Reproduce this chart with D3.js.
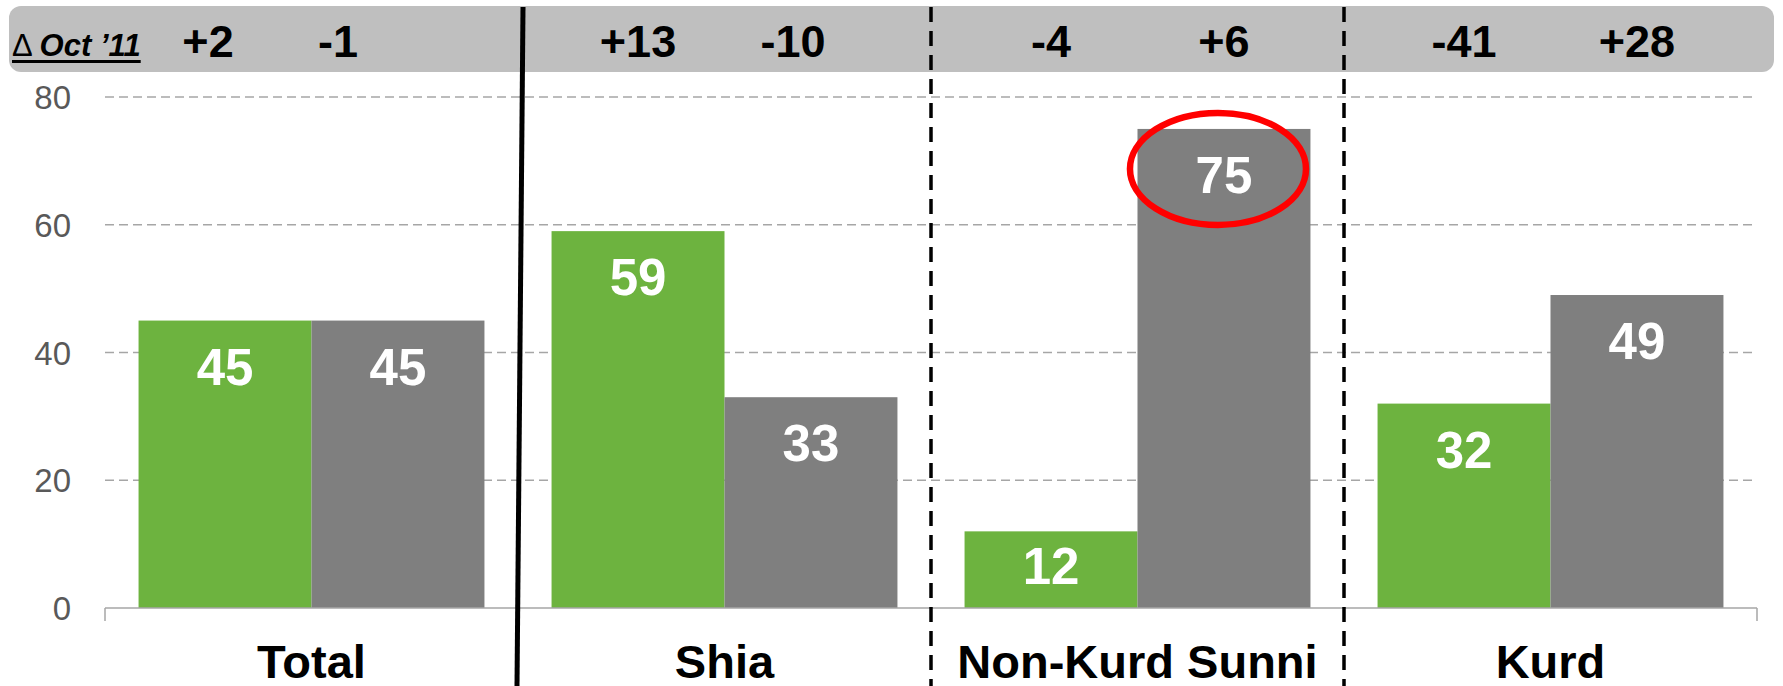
<!DOCTYPE html>
<html>
<head>
<meta charset="utf-8">
<script src="https://cdn.jsdelivr.net/npm/d3@7/dist/d3.min.js"></script>
<style>
  body { margin: 0; background: #fff; }
  text { font-family: Arial, "Liberation Sans", sans-serif; }
</style>
</head>
<body>
<svg id="chart" width="1783" height="686"></svg>
<script>
// data
const groups = ['Total', 'Shia', 'Non-Kurd Sunni', 'Kurd'];
const greenValues = [45, 59, 12, 32];
const grayValues = [45, 33, 75, 49];
const greenDelta = ['+2', '+13', '-4', '-41'];
const grayDelta = ['-1', '-10', '+6', '+28'];
const yTicks = [0, 20, 40, 60, 80];
const deltaLabel = 'Oct \u201911';

// header labels in the Total group sit a bit left of their bars
const headerShift = [[-17, -60], [0, -18], [0, 0], [0, 0]];

const green = '#6db33f',
      gray = '#7f7f7f';

let svg = d3.select('#chart');

let x = d3.scaleBand()
  .domain(groups)
  .range([105, 1757]);

let xs = d3.scaleBand()
  .domain([0, 1])
  .range([0, x.bandwidth()])
  .paddingOuter(0.194);

let y = d3.scaleLinear()
  .domain([0, 80])
  .range([608, 97]);

let bars = [];
groups.forEach((g, i) => {
  bars.push({group: g, gi: i, s: 0, value: greenValues[i], color: green});
  bars.push({group: g, gi: i, s: 1, value: grayValues[i], color: gray});
});

// header band
svg.append('rect')
  .attr('x', 9)
  .attr('y', 6)
  .attr('width', 1765)
  .attr('height', 66)
  .attr('rx', 12)
  .attr('fill', '#bfbfbf');

// gridlines
svg.append('g')
  .selectAll('line')
  .data(yTicks.filter(d => d > 0))
  .enter().append('line')
    .attr('x1', x.range()[0])
    .attr('x2', x.range()[1])
    .attr('y1', d => y(d))
    .attr('y2', d => y(d))
    .attr('stroke', '#a6a6a6')
    .attr('stroke-width', 1.5)
    .attr('stroke-dasharray', '9,5');

// y tick labels
svg.append('g')
  .selectAll('text')
  .data(yTicks)
  .enter().append('text')
    .attr('x', 71)
    .attr('y', d => y(d) + 12)
    .attr('text-anchor', 'end')
    .attr('font-size', 33)
    .attr('fill', '#595959')
    .text(d => d);

// bars
svg.append('g')
  .selectAll('rect')
  .data(bars)
  .enter().append('rect')
    .attr('x', d => x(d.group) + xs(d.s))
    .attr('y', d => y(d.value))
    .attr('width', xs.bandwidth())
    .attr('height', d => y(0) - y(d.value))
    .attr('fill', d => d.color);

// bar labels
svg.append('g')
  .selectAll('text')
  .data(bars)
  .enter().append('text')
    .attr('x', d => x(d.group) + xs(d.s) + xs.bandwidth() / 2)
    .attr('y', d => {
      let top = y(d.value);
      return Math.min(top + 64, (top + y(0)) / 2 + 14);
    })
    .attr('text-anchor', 'middle')
    .attr('font-size', 51)
    .attr('font-weight', 'bold')
    .attr('fill', '#fff')
    .text(d => d.value);

// baseline
svg.append('line')
  .attr('x1', x.range()[0])
  .attr('x2', x.range()[1])
  .attr('y1', y(0))
  .attr('y2', y(0))
  .attr('stroke', '#a6a6a6')
  .attr('stroke-width', 1.5);

svg.append('g')
  .selectAll('line')
  .data(groups.concat(['end']))
  .enter().append('line')
    .attr('x1', (d, i) => x.range()[0] + i * x.step())
    .attr('x2', (d, i) => x.range()[0] + i * x.step())
    .attr('y1', y(0))
    .attr('y2', y(0) + 13)
    .attr('stroke', '#a6a6a6')
    .attr('stroke-width', 1.5);

// category labels
svg.append('g')
  .selectAll('text')
  .data(groups)
  .enter().append('text')
    .attr('x', d => x(d) + x.bandwidth() / 2)
    .attr('y', 678)
    .attr('text-anchor', 'middle')
    .attr('font-size', 47)
    .attr('font-weight', 'bold')
    .attr('fill', '#000')
    .text(d => d);

// change since Oct '11
let deltas = [];
groups.forEach((g, i) => {
  deltas.push({group: g, s: 0, text: greenDelta[i], dx: headerShift[i][0]});
  deltas.push({group: g, s: 1, text: grayDelta[i], dx: headerShift[i][1]});
});

svg.append('g')
  .selectAll('text')
  .data(deltas)
  .enter().append('text')
    .attr('x', d => x(d.group) + xs(d.s) + xs.bandwidth() / 2 + d.dx)
    .attr('y', 57)
    .attr('text-anchor', 'middle')
    .attr('font-size', 45)
    .attr('font-weight', 'bold')
    .attr('fill', '#000')
    .text(d => d.text);

let dl = svg.append('text')
  .attr('x', 12)
  .attr('y', 56)
  .attr('font-size', 31)
  .attr('fill', '#000');
dl.append('tspan')
  .text('\u0394 ');
dl.append('tspan')
  .attr('font-weight', 'bold')
  .attr('font-style', 'italic')
  .text(deltaLabel);

let dlw = dl.node().getComputedTextLength();
svg.append('line')
  .attr('x1', 12)
  .attr('x2', 12 + dlw)
  .attr('y1', 61.5)
  .attr('y2', 61.5)
  .attr('stroke', '#000')
  .attr('stroke-width', 3);

// group separators
let bounds = groups.slice(1).map(g => x(g));

svg.append('line')
  .attr('x1', bounds[0] + 5)
  .attr('y1', 7)
  .attr('x2', bounds[0] - 1)
  .attr('y2', 686)
  .attr('stroke', '#000')
  .attr('stroke-width', 5);

svg.append('g')
  .selectAll('line')
  .data(bounds.slice(1))
  .enter().append('line')
    .attr('x1', d => d)
    .attr('x2', d => d)
    .attr('y1', 7)
    .attr('y2', 686)
    .attr('stroke', '#000')
    .attr('stroke-width', 3.5)
    .attr('stroke-dasharray', '15,9');

// highlight on the largest value
let maxGray = d3.max(grayValues);
let hi = grayValues.indexOf(maxGray);

svg.append('ellipse')
  .attr('cx', x(groups[hi]) + xs(1) + xs.bandwidth() / 2 - 6)
  .attr('cy', y(maxGray) + 40)
  .attr('rx', 88)
  .attr('ry', 56)
  .attr('fill', 'none')
  .attr('stroke', '#ff0000')
  .attr('stroke-width', 6.5);
</script>
</body>
</html>
